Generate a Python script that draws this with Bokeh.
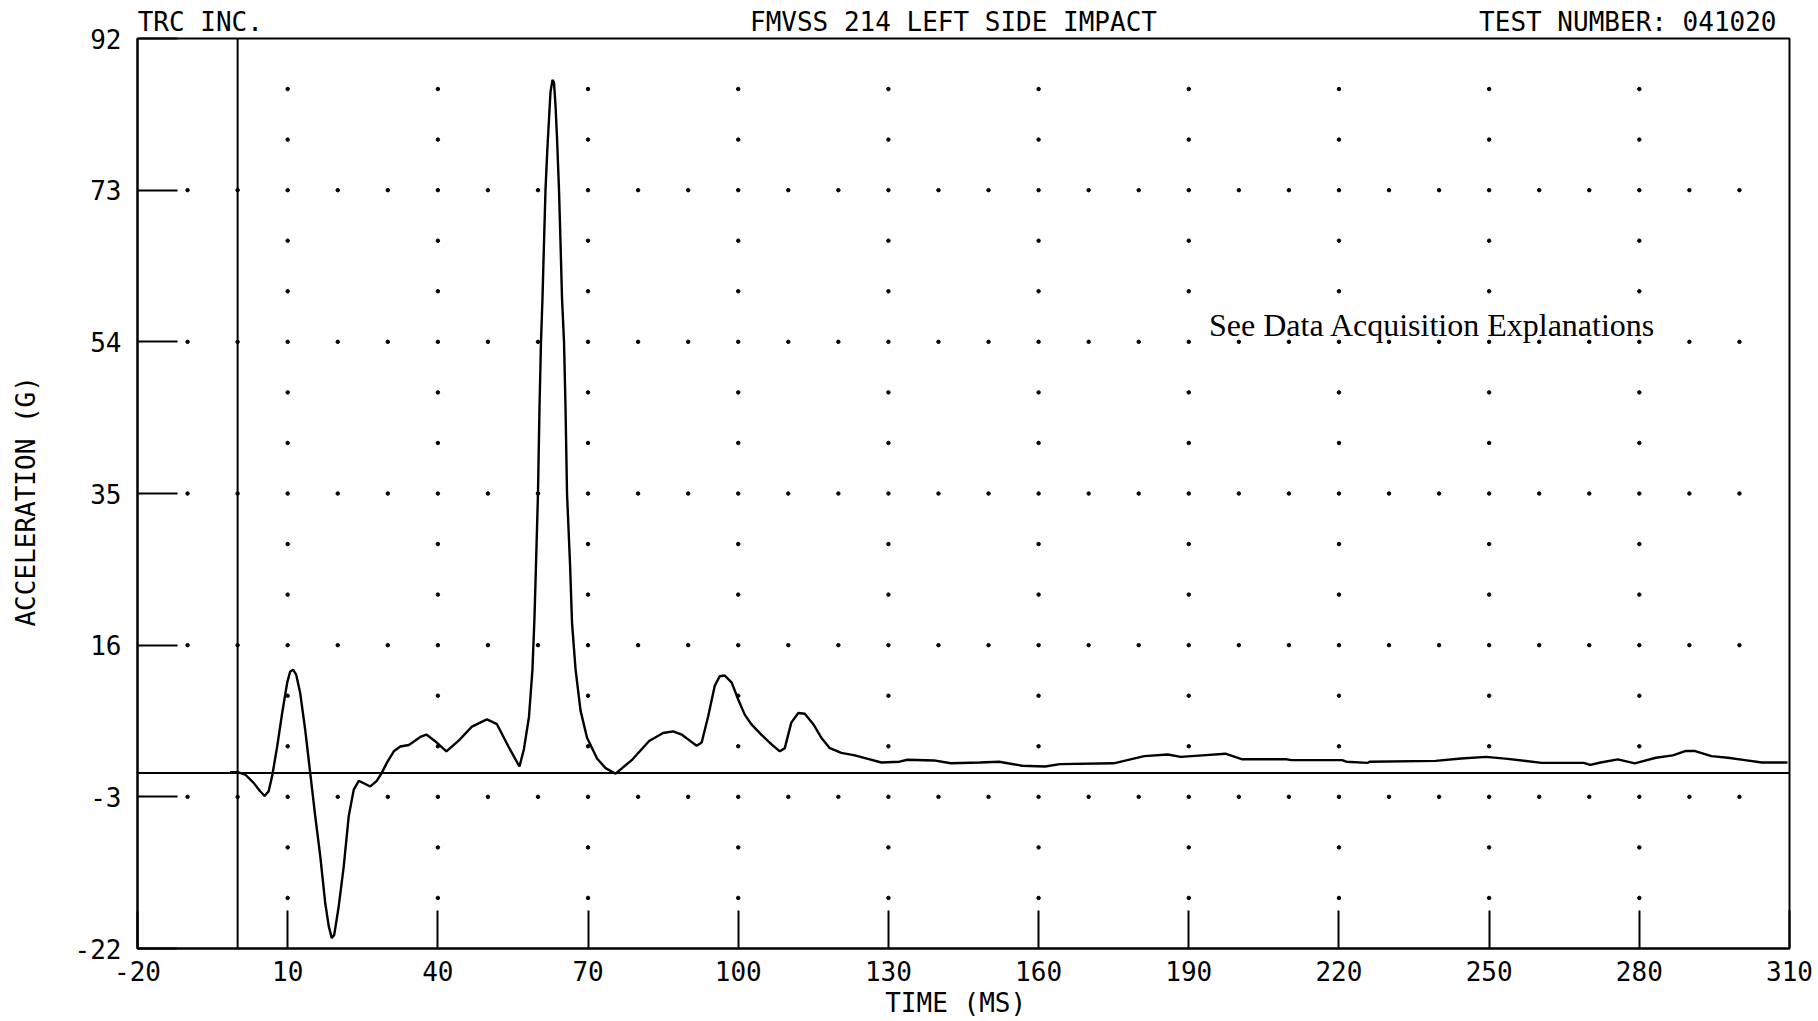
import numpy as np
from bokeh.plotting import figure
from bokeh.models import Span, Label, FixedTicker, Range1d, LinearAxis
from bokeh.embed import file_html
from bokeh.resources import INLINE

# ---- data ----
x_ticks = [-20, 10, 40, 70, 100, 130, 160, 190, 220, 250, 280, 310]
y_ticks = [-22, -3, 16, 35, 54, 73, 92]

time_ms = [-1.5, 0.0, 1.5, 3.2, 4.5, 5.4, 6.2, 6.9, 7.9, 8.9, 9.9, 10.5, 11.1, 11.7,
           12.5, 13.5, 14.5, 15.5, 16.5, 17.5, 18.2, 18.8, 19.3, 20.2, 21.2, 22.2,
           23.2, 24.2, 25.2, 26.5, 27.8, 28.8, 29.8, 31.2, 32.5, 34.2, 36.5, 37.7,
           39.4, 41.7, 44.1, 46.8, 49.8, 51.8, 54.1, 56.3, 57.2, 58.2, 58.9, 59.3,
           59.6, 60.0, 60.3, 60.6, 60.9, 61.2, 61.5, 61.85, 62.2, 62.5, 62.9, 63.2,
           63.5, 63.8, 64.2, 64.5, 64.8, 65.2, 65.5, 65.8, 66.4, 66.8, 67.5, 68.5,
           69.8, 71.8, 73.5, 75.5, 78.9, 82.2, 85.0, 87.0, 88.7, 90.0, 91.7, 92.7,
           94.0, 95.3, 96.3, 97.3, 98.7, 100.0, 101.3, 102.6, 104.6, 106.6, 108.3,
           109.3, 110.6, 112.0, 113.3, 115.0, 116.6, 118.3, 120.6, 123.3, 125.9,
           128.6, 132.2, 133.8, 139.1, 142.5, 148.3, 152.1, 156.7, 161.3, 164.3,
           175.0, 181.1, 185.8, 188.4, 192.7, 197.3, 200.7, 209.6, 210.5, 220.6,
           221.5, 225.7, 226.1, 239.3, 244.4, 249.4, 253.7, 260.5, 268.9, 270.2,
           272.3, 275.7, 279.1, 283.3, 286.7, 289.3, 291.0, 294.4, 297.7, 301.1,
           304.5, 309.6]
accel_g = [0.1, 0.1, -0.2, -1.25, -2.3, -2.9, -2.3, -0.4, 3.3, 7.5, 11.3, 12.7, 12.9, 12.3,
           10.0, 5.4, 0.0, -5.4, -10.4, -16.3, -19.2, -20.7, -20.3, -16.7, -11.7, -5.4,
           -2.1, -1.0, -1.3, -1.7, -1.0, 0.0, 1.25, 2.7, 3.3, 3.5, 4.5, 4.8,
           4.0, 2.7, 4.0, 5.8, 6.7, 6.1, 3.3, 0.8, 3.0, 7.0, 13.0, 19.5,
           26.0, 35.0, 45.7, 54.0, 59.5, 66.4, 73.0, 77.9, 81.9, 85.3, 86.8, 86.5,
           83.6, 79.6, 73.0, 66.4, 59.5, 54.0, 45.7, 35.0, 26.2, 18.8, 13.0, 7.8,
           4.4, 1.8, 0.6, -0.1, 1.7, 4.0, 5.0, 5.2, 4.8, 4.2, 3.4, 3.8,
           7.1, 10.9, 12.1, 12.2, 11.3, 9.2, 7.3, 6.1, 4.8, 3.6, 2.7,
           3.1, 6.3, 7.5, 7.4, 6.1, 4.4, 3.1, 2.5, 2.2, 1.75,
           1.3, 1.4, 1.65, 1.56, 1.2, 1.3, 1.4, 0.9, 0.8, 1.1,
           1.2, 2.1, 2.3, 2.0, 2.2, 2.4, 1.7, 1.7, 1.6, 1.6,
           1.4, 1.25, 1.4, 1.5, 1.8, 2.0, 1.75, 1.25, 1.25, 1.0,
           1.3, 1.7, 1.2, 1.9, 2.2, 2.75, 2.75, 2.1, 1.9, 1.6,
           1.3, 1.3]

header_texts = ["TRC INC.", "FMVSS 214 LEFT SIDE IMPACT", "TEST NUMBER: 041020"]
header_pos = [-7.45, 143, 277.7]   # centre of each header text, in ms
note_text = "See Data Acquisition Explanations"

MONO = "DejaVu Sans Mono"

p = figure(width=1816, height=1020,
           x_range=Range1d(x_ticks[0], x_ticks[-1]),
           y_range=Range1d(y_ticks[0], y_ticks[-1]),
           output_backend="svg", toolbar_location=None,
           min_border_left=137, min_border_right=27,
           min_border_top=38, min_border_bottom=72)
p.xgrid.visible = False
p.ygrid.visible = False
p.background_fill_color = "white"
p.border_fill_color = "white"
p.outline_line_color = "black"
p.outline_line_width = 2
p.outline_line_alpha = 1.0

p.xaxis.ticker = FixedTicker(ticks=x_ticks)
p.yaxis.ticker = FixedTicker(ticks=y_ticks)
p.xaxis.major_label_overrides = {v: str(v) for v in x_ticks}
p.yaxis.major_label_overrides = {v: str(v) for v in y_ticks}
for ax in (p.xaxis, p.yaxis):
    ax.axis_line_color = "black"
    ax.axis_line_width = 2
    ax.major_tick_line_color = "black"
    ax.major_tick_line_width = 2
    ax.major_tick_out = 0
    ax.minor_tick_line_color = None
    ax.major_label_text_font = MONO
    ax.major_label_text_font_size = "26px"
    ax.major_label_text_color = "black"
    ax.axis_label_text_font = MONO
    ax.axis_label_text_font_size = "26px"
    ax.axis_label_text_font_style = "normal"
    ax.axis_label_text_color = "black"
p.xaxis.major_tick_in = 38
p.yaxis.major_tick_in = 40
p.xaxis.major_label_standoff = 12
p.yaxis.major_label_standoff = 16
p.xaxis.axis_label = "TIME  (MS)"
p.yaxis.axis_label = "ACCELERATION  (G)"
p.xaxis.axis_label_standoff = 4
p.yaxis.axis_label_standoff = 31

# header line: an axis above the frame carrying the three header texts
hdr_axis = LinearAxis(ticker=FixedTicker(ticks=header_pos),
                      major_label_overrides={v: t for v, t in zip(header_pos, header_texts)},
                      axis_line_color=None, major_tick_line_color=None,
                      minor_tick_line_color=None,
                      major_tick_in=0, major_tick_out=0,
                      major_label_standoff=2,
                      major_label_text_font=MONO,
                      major_label_text_font_size="26px",
                      major_label_text_color="black")
p.add_layout(hdr_axis, "above")

# dotted grid built from the ticks
x_step = 10
y_step = (y_ticks[1] - y_ticks[0]) / 3
dx, dy = [], []
for yv in y_ticks[1:-1]:
    for xv in np.arange(x_ticks[0] + x_step, x_ticks[-1], x_step):
        dx.append(xv); dy.append(yv)
n_rows = int(round((y_ticks[-1] - y_ticks[0]) / y_step))
for xv in x_ticks[1:-1]:
    for k in range(1, n_rows):
        if k % 3 == 0:
            continue
        dx.append(xv); dy.append(y_ticks[0] + k * y_step)
p.scatter(dx, dy, marker="circle", size=3.5, color="black")

p.add_layout(Span(location=0, dimension="height", line_color="black", line_width=2))
p.add_layout(Span(location=0, dimension="width", line_color="black", line_width=2))

p.line(time_ms, accel_g, line_color="black", line_width=2.4)

p.add_layout(Label(x=238.7, y=56.1, text=note_text,
                   text_font="Liberation Serif", text_font_size="32px",
                   text_align="center", text_baseline="alphabetic",
                   text_color="black"))

open("out.html", "w").write(file_html(p, INLINE))
